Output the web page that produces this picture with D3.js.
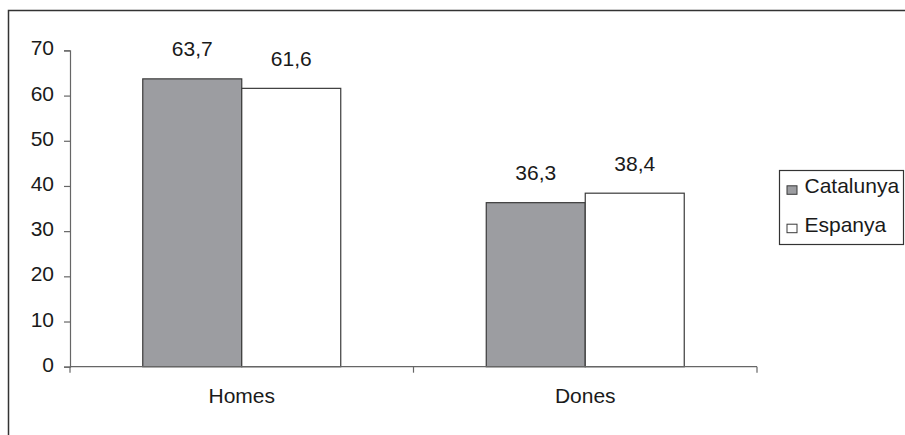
<!DOCTYPE html>
<html>
<head>
<meta charset="utf-8">
<script src="https://cdn.jsdelivr.net/npm/d3@7"></script>
<style>
  html, body { margin: 0; padding: 0; background: #fff; }
  svg { display: block; }
  text { font-family: "Liberation Sans", Arial, sans-serif; fill: #1a1a1a; }
</style>
</head>
<body>
<svg id="chart" width="905" height="435"></svg>
<script>
const categories = ["Homes", "Dones"];
const seriesNames = ["Catalunya", "Espanya"];
const catalunya = [63.7, 36.3];
const espanya = [61.6, 38.4];
const yTicks = [0, 10, 20, 30, 40, 50, 60, 70];
const seriesColors = ["#9c9da1", "#ffffff"];

const seriesValues = [catalunya, espanya];
const svg = d3.select("#chart");

// outer chart-area border (right and bottom edges fall outside the picture)
svg.append("rect")
  .attr("x", 8.5).attr("y", 10.5)
  .attr("width", 1000).attr("height", 1000)
  .attr("fill", "none").attr("stroke", "#333").attr("stroke-width", 1.5);

const plot = { left: 70, right: 757, top: 50.4, bottom: 366.7 };

const y = d3.scaleLinear().domain([0, 70]).range([plot.bottom, plot.top]);
const x0 = d3.scaleBand().domain(categories).range([plot.left, plot.right])
  .paddingInner(0.4236).paddingOuter(0.2118);
const x1 = d3.scaleBand().domain(seriesNames).range([0, x0.bandwidth()]);

// bars
const groups = svg.append("g").selectAll("g")
  .data(categories).join("g")
  .attr("transform", d => `translate(${x0(d)},0)`);

groups.selectAll("rect")
  .data((c, i) => seriesNames.map((s, j) => ({ s, j, v: seriesValues[j][i] })))
  .join("rect")
  .attr("x", d => x1(d.s))
  .attr("y", d => y(d.v))
  .attr("width", x1.bandwidth())
  .attr("height", d => y(0) - y(d.v))
  .attr("fill", d => seriesColors[d.j])
  .attr("stroke", "#3a3a3a").attr("stroke-width", 1.2);

// data labels
groups.selectAll("text.lbl")
  .data((c, i) => seriesNames.map((s, j) => ({ s, j, v: seriesValues[j][i] })))
  .join("text").attr("class", "lbl")
  .attr("x", d => x1(d.s) + x1.bandwidth() / 2)
  .attr("y", d => y(d.v) - 22.5)
  .attr("text-anchor", "middle")
  .attr("font-size", 21)
  .text(d => d.v.toFixed(1).replace(".", ","));

// y axis
const yAxis = d3.axisLeft(y).tickValues(yTicks).tickSize(6).tickPadding(10).tickFormat(d3.format("d"));
const gy = svg.append("g").attr("transform", `translate(${plot.left},0)`).call(yAxis);
gy.select(".domain").attr("stroke", "#666").attr("stroke-width", 1.2);
gy.selectAll(".tick line").attr("stroke", "#666").attr("stroke-width", 1.2);
gy.selectAll(".tick text").attr("font-size", 21).attr("dy", "4.5").attr("fill", "#1a1a1a")
  .attr("font-family", "Liberation Sans, Arial, sans-serif");

// x axis with tick marks at band boundaries
const xAxisLine = svg.append("g");
xAxisLine.append("line")
  .attr("x1", plot.left).attr("x2", plot.right)
  .attr("y1", y(0)).attr("y2", y(0))
  .attr("stroke", "#666").attr("stroke-width", 1.2);
const boundaries = [x0.range()[0]].concat(categories.map(c => x0(c) - x0.step() * x0.paddingOuter() + x0.step()));
xAxisLine.selectAll("line.t").data(boundaries).join("line").attr("class", "t")
  .attr("x1", d => d).attr("x2", d => d)
  .attr("y1", y(0)).attr("y2", y(0) + 6)
  .attr("stroke", "#666").attr("stroke-width", 1.2);
xAxisLine.selectAll("text").data(categories).join("text")
  .attr("x", d => x0(d) + x0.bandwidth() / 2)
  .attr("y", 403)
  .attr("text-anchor", "middle")
  .attr("font-size", 21)
  .text(d => d);

// legend
const legend = svg.append("g");
legend.append("rect")
  .attr("x", 779.5).attr("y", 170.5).attr("width", 124).attr("height", 74)
  .attr("fill", "#fff").attr("stroke", "#333").attr("stroke-width", 1.2);
const legendRows = [193.3, 231.7];
seriesNames.forEach((s, i) => {
  legend.append("rect")
    .attr("x", 787).attr("y", legendRows[i] - 7.5).attr("width", 10).attr("height", 8.5)
    .attr("fill", seriesColors[i]).attr("stroke", "#3a3a3a").attr("stroke-width", 1);
  legend.append("text")
    .attr("x", 804.5).attr("y", legendRows[i])
    .attr("font-size", 21)
    .text(s);
});
</script>
</body>
</html>
